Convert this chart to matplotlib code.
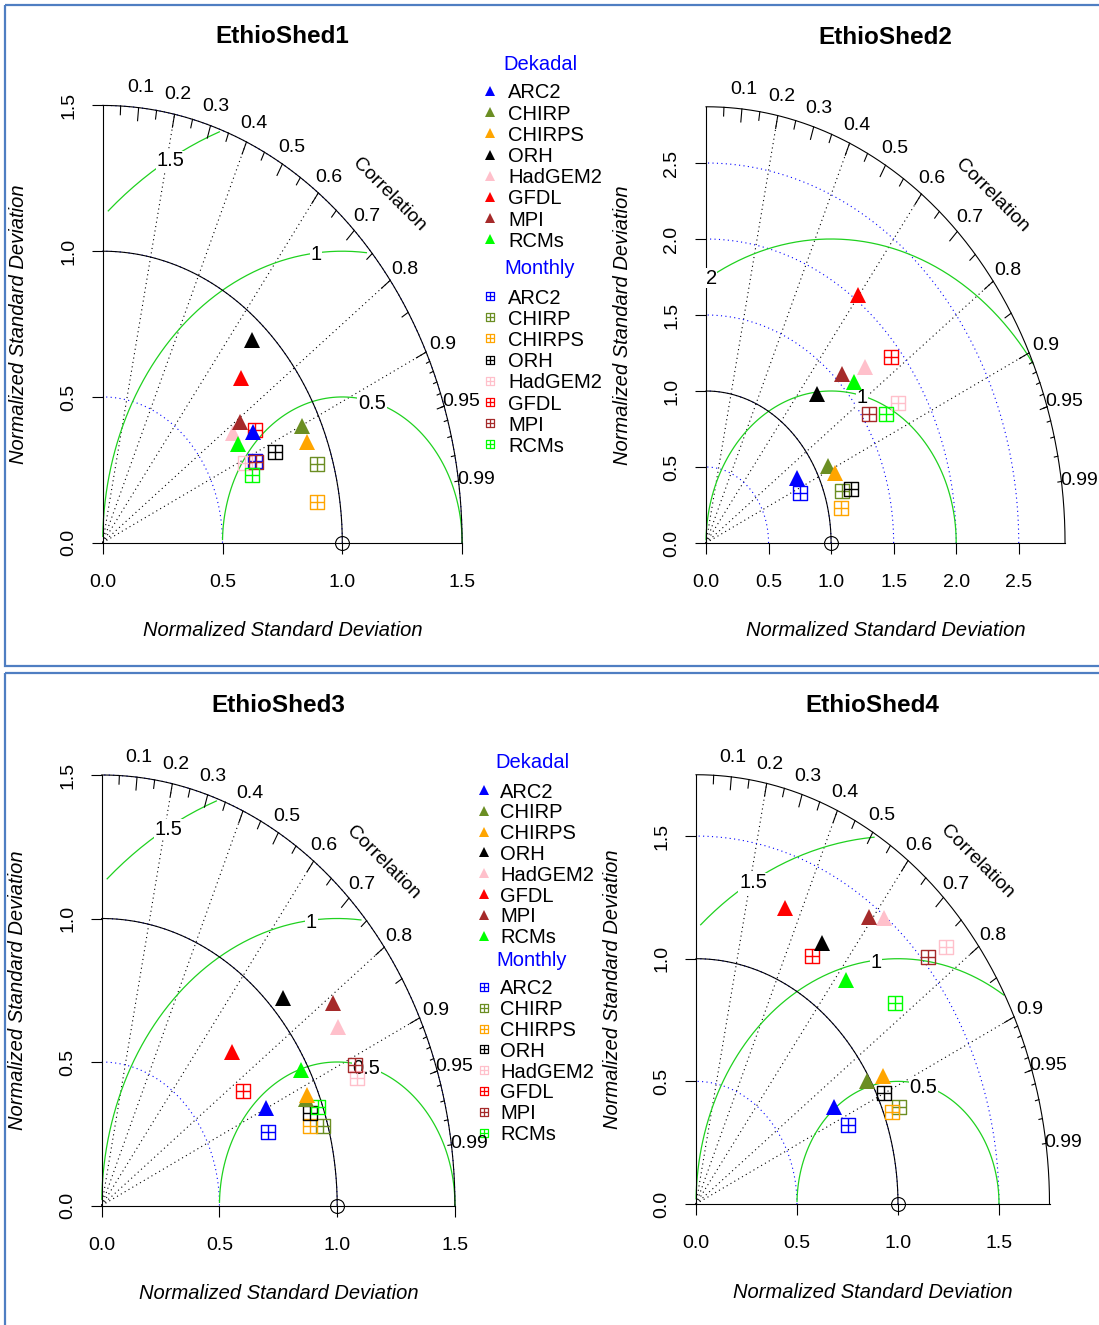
import numpy as np
import matplotlib.pyplot as plt
from matplotlib.path import Path
from matplotlib.patches import Rectangle

plt.rcParams['font.family'] = ['Liberation Sans', 'DejaVu Sans']

W, H = 1099, 1325
PT = 0.72  # points per pixel at dpi 100

# ----------------------------
# Data: normalized SD and correlation against the reference
# ----------------------------
models = ["ARC2", "CHIRP", "CHIRPS", "ORH", "HadGEM2", "GFDL", "MPI", "RCMs"]
colors = ["blue", "olivedrab", "orange", "black", "pink", "red", "brown", "lime"]

shed1_dek_sd = [0.733, 0.921, 0.918, 0.933, 0.661, 0.807, 0.707, 0.660]
shed1_dek_cor = [0.854, 0.901, 0.927, 0.668, 0.821, 0.715, 0.812, 0.858]
shed1_mon_sd = [0.695, 0.933, 0.904, 0.783, 0.653, 0.744, 0.697, 0.666]
shed1_mon_cor = [0.915, 0.957, 0.988, 0.918, 0.909, 0.854, 0.917, 0.937]

shed2_dek_sd = [0.841, 1.097, 1.128, 1.319, 1.721, 2.036, 1.554, 1.589]
shed2_dek_cor = [0.862, 0.887, 0.914, 0.671, 0.739, 0.598, 0.698, 0.746]
shed2_mon_sd = [0.819, 1.143, 1.103, 1.210, 1.793, 1.919, 1.554, 1.667]
shed2_mon_cor = [0.917, 0.954, 0.978, 0.956, 0.857, 0.769, 0.838, 0.861]

shed3_dek_sd = [0.775, 0.944, 0.951, 1.058, 1.182, 0.770, 1.208, 0.968]
shed3_dek_cor = [0.898, 0.919, 0.915, 0.729, 0.850, 0.721, 0.812, 0.873]
shed3_mon_sd = [0.750, 0.978, 0.928, 0.941, 1.171, 0.719, 1.182, 0.979]
shed3_mon_cor = [0.940, 0.959, 0.954, 0.940, 0.925, 0.833, 0.910, 0.937]

shed4_dek_sd = [0.790, 0.985, 1.064, 1.235, 1.494, 1.283, 1.451, 1.176]
shed4_dek_cor = [0.865, 0.861, 0.871, 0.506, 0.624, 0.344, 0.590, 0.630]
shed4_mon_sd = [0.820, 1.079, 1.039, 1.037, 1.621, 1.164, 1.529, 1.282]
shed4_mon_cor = [0.919, 0.931, 0.933, 0.899, 0.762, 0.495, 0.752, 0.768]

# diagram settings: max SD, axis ticks, RMSD arcs
shed_names = ["EthioShed1", "EthioShed2", "EthioShed3", "EthioShed4"]
sd_max = [1.5, 2.87, 1.5, 1.75]
sd_ticks = [[0, 0.5, 1.0, 1.5],
            [0, 0.5, 1.0, 1.5, 2.0, 2.5],
            [0, 0.5, 1.0, 1.5],
            [0, 0.5, 1.0, 1.5]]
rmsd_arcs = [[0.5, 1, 1.5], [1, 2], [0.5, 1, 1.5], [0.5, 1, 1.5]]
corr_lines = [0.2, 0.4, 0.6, 0.8, 0.9]

# origin (px from top-left) and px per unit in x / y for each diagram
layout = [(102.7, 542.7, 239.6, 291.5),
          (706.0, 543.0, 125.1, 152.0),
          (101.7, 1205.5, 235.5, 287.0),
          (696.0, 1204.0, 202.0, 245.3)]

# square with a plus inside (R pch 12)
sq_plus = Path([(-1, -1), (1, -1), (1, 1), (-1, 1), (-1, -1),
                (0, -1), (0, 1), (-1, 0), (1, 0)],
               [Path.MOVETO, Path.LINETO, Path.LINETO, Path.LINETO, Path.CLOSEPOLY,
                Path.MOVETO, Path.LINETO, Path.MOVETO, Path.LINETO])

GREEN = "#1fd11f"
DOT = (0, (1, 3))
MID = 'center_baseline'


def taylor(ax, name, m, ticks, gammas, dek_sd, dek_cor, mon_sd, mon_cor):
    ax.set_xlim(0, m)
    ax.set_ylim(0, m)
    ax.patch.set_visible(False)
    ax.spines[['top', 'right']].set_visible(False)
    ax.spines[['left', 'bottom']].set_linewidth(0.8)
    lbl = [f"{t:.1f}" for t in ticks]
    ax.set_xticks(ticks)
    ax.set_xticklabels(lbl)
    ax.set_yticks(ticks)
    ax.set_yticklabels(lbl, rotation=90, va='center')
    ax.tick_params(length=8, width=0.8, labelsize=14)
    ax.tick_params(axis='x', pad=14.5)
    ax.tick_params(axis='y', pad=10.5)

    # correlation rays
    for c in corr_lines:
        ax.plot([0, m * c], [0, m * np.sqrt(1 - c ** 2)], color='black',
                ls=DOT, lw=0.8, clip_on=False)

    # SD arcs
    q = np.linspace(0, np.pi / 2, 300)
    for r in ticks[1:]:
        ax.plot(r * np.cos(q), r * np.sin(q), color='blue', ls=DOT, lw=0.8,
                clip_on=False)

    # centred RMS difference arcs around the reference point
    t = np.arange(0, np.pi, 0.03)
    for g, lp in zip(gammas, np.linspace(45, 70, len(gammas))):
        gx = 1 + g * np.cos(t)
        gy = g * np.sin(t)
        inside = (gx ** 2 + gy ** 2 <= m ** 2) & (gx >= 0)
        ax.plot(gx[inside], gy[inside], color=GREEN, lw=0.9, clip_on=False)
        k = int(lp) - 1
        ax.text(gx[k], gy[k], f"{g:g}", ha='center', va=MID, fontsize=14.5,
                bbox=dict(fc='white', ec='none', pad=0.5), zorder=3)

    # outer arc and reference SD arc
    ax.plot(m * np.cos(q), m * np.sin(q), color='black', lw=0.8, clip_on=False)
    ax.plot(np.cos(q), np.sin(q), color='black', lw=0.8, clip_on=False)

    # correlation ticks on the outer arc
    for vals, inner in [(np.arange(0.1, 0.95, 0.1), 0.97),
                        (np.arange(0.05, 1.0, 0.1), 0.98),
                        (np.arange(0.91, 0.995, 0.01), 0.99)]:
        a = np.arccos(vals)
        ax.plot(np.vstack([m * np.cos(a), inner * m * np.cos(a)]),
                np.vstack([m * np.sin(a), inner * m * np.sin(a)]),
                color='black', lw=0.8, clip_on=False)
    for c in [0.1, 0.2, 0.3, 0.4, 0.5, 0.6, 0.7, 0.8, 0.9, 0.95, 0.99]:
        a = np.arccos(c)
        ax.text(1.05 * m * np.cos(a), 1.05 * m * np.sin(a), f"{c:g}",
                ha='center', va=MID, fontsize=14)
    ax.text(0.8 * m, 0.8 * m, "Correlation", rotation=-45, rotation_mode='anchor',
            ha='center', va=MID, fontsize=14)

    # reference point
    ax.plot([1], [0], 'o', mfc='none', mec='black', ms=10, mew=0.8,
            clip_on=False, zorder=4)

    # monthly (squares) then dekadal (triangles)
    for s, c, col in zip(mon_sd, mon_cor, colors):
        ax.plot(s * c, s * np.sqrt(1 - c ** 2), marker=sq_plus, ms=10, mfc='none',
                mec=col, mew=1.0, ls='none', clip_on=False, zorder=5)
    for s, c, col in zip(dek_sd, dek_cor, colors):
        ax.plot(s * c, s * np.sqrt(1 - c ** 2), marker='^', ms=11, color=col,
                mew=0, ls='none', clip_on=False, zorder=6)

    ax.set_title(name, fontsize=17.5, fontweight='bold', pad=45)
    ax.annotate("Normalized Standard Deviation", xy=(0.5, 0), xycoords='axes fraction',
                xytext=(0, -88 * PT), textcoords='offset points', ha='center',
                va='center', fontsize=14.5, style='italic')
    ax.annotate("Normalized Standard Deviation", xy=(0, 0.5), xycoords='axes fraction',
                xytext=(-84 * PT, 0), textcoords='offset points', ha='center',
                va='center', fontsize=14.5, style='italic', rotation=90)


def key(ov, xm, xt, xh, yh_dek, y_dek, yh_mon, y_mon, step):
    ov.text(xh, yh_dek, "Dekadal", color='blue', ha='center', va=MID, fontsize=14.5)
    ov.text(xh, yh_mon, "Monthly", color='blue', ha='center', va=MID, fontsize=14.5)
    for i, (name, col) in enumerate(zip(models, colors)):
        ov.plot(xm, y_dek + i * step, marker='^', ms=6.5, color=col, mew=0)
        ov.text(xt, y_dek + i * step, name, va=MID, fontsize=14.5)
        ov.plot(xm, y_mon + i * step, marker=sq_plus, ms=6, mfc='none', mec=col, mew=0.9)
        ov.text(xt, y_mon + i * step, name, va=MID, fontsize=14.5)


fig = plt.figure(figsize=(W / 100, H / 100), dpi=100)

# pixel-space overlay for panel frames and keys
ov = fig.add_axes([0, 0, 1, 1])
ov.set_xlim(0, W)
ov.set_ylim(H, 0)
ov.axis('off')
ov.add_patch(Rectangle((5, 5), 1110, 661, fill=False, ec='#4f7ec2', lw=1.6))
ov.add_patch(Rectangle((5, 673), 1110, 700, fill=False, ec='#4f7ec2', lw=1.6))

data = [(shed1_dek_sd, shed1_dek_cor, shed1_mon_sd, shed1_mon_cor),
        (shed2_dek_sd, shed2_dek_cor, shed2_mon_sd, shed2_mon_cor),
        (shed3_dek_sd, shed3_dek_cor, shed3_mon_sd, shed3_mon_cor),
        (shed4_dek_sd, shed4_dek_cor, shed4_mon_sd, shed4_mon_cor)]

for i in range(4):
    ox, oy, sx, sy = layout[i]
    m = sd_max[i]
    ax = fig.add_axes([ox / W, 1 - oy / H, m * sx / W, m * sy / H])
    taylor(ax, shed_names[i], m, sd_ticks[i], rmsd_arcs[i], *data[i])

key(ov, 490, 508, 540, 62, 91, 267, 296, 21.2)
key(ov, 484, 500, 532, 760, 790, 958, 987, 20.8)

fig.savefig("out.png", dpi=100)
